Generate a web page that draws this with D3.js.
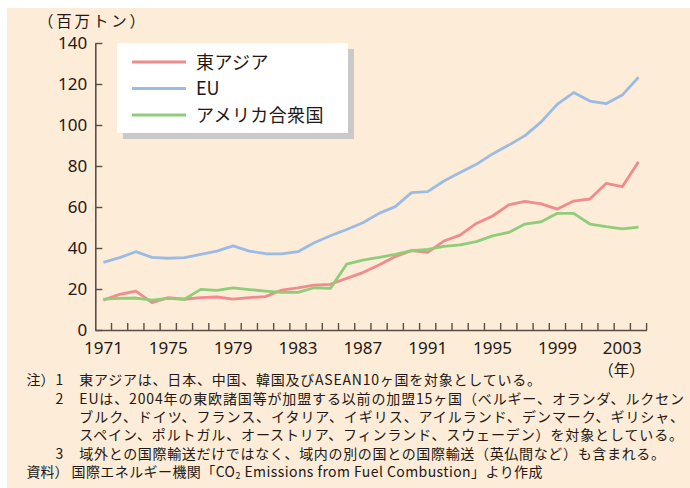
<!DOCTYPE html>
<html lang="ja">
<head>
<meta charset="utf-8">
<script src="https://cdn.jsdelivr.net/npm/d3@7"></script>
<style>
  html, body { margin: 0; padding: 0; background: #ffffff; }
  svg { display: block; }
  .tick-label { font-family: "Noto Sans", "Liberation Sans", sans-serif; font-size: 17px; fill: #231815; }
  .jp { font-family: "Noto Sans CJK JP", sans-serif; fill: #231815; }
</style>
</head>
<body>
<svg id="chart" width="690" height="488"></svg>
<script>
// 国際輸送（外航海運・航空）に伴うCO2排出量の推移（百万トン）
const years = d3.range(1971, 2005);
const labelYears = [1971, 1975, 1979, 1983, 1987, 1991, 1995, 1999, 2003];
const yTicks = [0, 20, 40, 60, 80, 100, 120, 140];

const seriesNames = ["東アジア", "EU", "アメリカ合衆国"];
const seriesColors = ["#f08c8c", "#9cbbe4", "#8fcd7a"];

const eastAsia = [14.6, 17.4, 19.0, 13.3, 15.8, 15.0, 15.8, 16.1, 15.1, 15.8,
                  16.3, 19.5, 20.6, 21.9, 22.3, 25.2, 28.0, 31.7, 35.8, 38.7,
                  37.9, 43.4, 46.3, 52.0, 55.6, 61.0, 62.8, 61.5, 59.0, 62.9,
                  63.9, 71.5, 69.9, 82.1];
const eu = [33.0, 35.3, 38.2, 35.4, 35.0, 35.3, 36.9, 38.5, 41.0, 38.5,
            37.2, 37.1, 38.2, 42.6, 46.0, 49.0, 52.3, 56.9, 60.2, 67.0,
            67.5, 72.7, 76.8, 80.8, 85.9, 90.2, 94.8, 101.5, 110.2, 115.8,
            111.7, 110.4, 114.6, 123.3];
const usa = [15.1, 15.4, 15.6, 14.6, 15.4, 15.0, 19.8, 19.3, 20.5, 19.7,
             19.0, 18.4, 18.4, 20.6, 20.3, 32.1, 34.1, 35.4, 36.9, 38.7,
             39.3, 40.8, 41.5, 43.1, 45.9, 47.6, 51.7, 52.8, 56.9, 56.9,
             51.7, 50.4, 49.3, 50.2];

const unitLabel = "（百万トン）";
const yearLabel = "（年）";
const noteLines = [
  { head: "注）", num: "1", text: "東アジアは、日本、中国、韓国及びASEAN10ヶ国を対象としている。", end: 541 },
  { head: "", num: "2", text: "EUは、2004年の東欧諸国等が加盟する以前の加盟15ヶ国（ベルギー、オランダ、ルクセン", end: 684 },
  { head: "", num: "", text: "ブルク、ドイツ、フランス、イタリア、イギリス、アイルランド、デンマーク、ギリシャ、", end: 684 },
  { head: "", num: "", text: "スペイン、ポルトガル、オーストリア、フィンランド、スウェーデン）を対象としている。", end: 683 },
  { head: "", num: "3", text: "域外との国際輸送だけではなく、域内の別の国との国際輸送（英仏間など）も含まれる。", end: 665 }
];
const sourceHead = "資料）";
const sourceParts = ["国際エネルギー機関「CO", "2", " Emissions from Fuel Combustion」より作成"];

const svg = d3.select("#chart");
const axisColor = "#5a4d44";

// paper background
svg.append("rect")
  .attr("x", 7).attr("y", 8)
  .attr("width", 683).attr("height", 480)
  .attr("fill", "#fdecd7");

// scales
const x = d3.scaleBand().domain(years).range([95.3, 646.6]).padding(0);
const cx = d => x(d) + x.bandwidth() / 2;
const y = d3.scaleLinear().domain([0, 140]).range([330, 43]);

// y axis: ticks point inward, labels outside
const yAxis = svg.append("g")
  .attr("transform", "translate(95.3,0)")
  .call(d3.axisLeft(y).tickValues(yTicks).tickSizeInner(-7).tickSizeOuter(0).tickPadding(8));
yAxis.select(".domain").attr("stroke", axisColor).attr("stroke-width", 1.6);
yAxis.selectAll(".tick line").attr("stroke", axisColor).attr("stroke-width", 1.4);
yAxis.selectAll(".tick text").attr("class", "tick-label").attr("font-size", null).attr("font-family", null);

// x axis: labels every four years, ticks at every year boundary
const xAxis = svg.append("g")
  .attr("transform", "translate(0,330)")
  .call(d3.axisBottom(x).tickValues(labelYears).tickSizeInner(0).tickSizeOuter(0).tickPadding(12));
xAxis.select(".domain").attr("stroke", axisColor).attr("stroke-width", 1.6);
xAxis.selectAll(".tick text").attr("class", "tick-label").attr("font-size", null).attr("font-family", null);

const boundaries = years.map(d => x(d) + x.bandwidth());
svg.append("g").selectAll("line")
  .data(boundaries)
  .join("line")
  .attr("x1", d => d).attr("x2", d => d)
  .attr("y1", y(0)).attr("y2", y(0) - 7)
  .attr("stroke", axisColor).attr("stroke-width", 1.4);

// unit labels
svg.append("text").attr("class", "jp")
  .attr("x", 38).attr("y", 21.5).attr("dy", "0.38em")
  .attr("font-size", 15.5)
  .attr("textLength", 107).attr("lengthAdjust", "spacing")
  .text(unitLabel);
svg.append("text").attr("class", "jp")
  .attr("x", 621.5).attr("y", 370).attr("dy", "0.38em")
  .attr("text-anchor", "middle")
  .attr("font-size", 15.5)
  .text(yearLabel);

// lines
const line = d3.line().x((d, i) => cx(years[i])).y(d => y(d));
const series = [eu, eastAsia, usa];
const order = [1, 0, 2];
series.forEach((vals, k) => {
  svg.append("path")
    .datum(vals)
    .attr("fill", "none")
    .attr("stroke", seriesColors[order[k]])
    .attr("stroke-width", 2.8)
    .attr("stroke-linejoin", "round")
    .attr("d", line);
});

// legend with drop shadow
const legend = svg.append("g");
legend.append("rect").attr("x", 123).attr("y", 49).attr("width", 231).attr("height", 90).attr("fill", "#c9c9c9");
legend.append("rect").attr("x", 117).attr("y", 43).attr("width", 231).attr("height", 90).attr("fill", "#ffffff");
const legendY = d3.scalePoint().domain(seriesNames).range([62, 115]);
seriesNames.forEach((name, i) => {
  legend.append("line")
    .attr("x1", 132).attr("x2", 186)
    .attr("y1", legendY(name)).attr("y2", legendY(name))
    .attr("stroke", seriesColors[i]).attr("stroke-width", 3);
  legend.append("text").attr("class", "jp")
    .attr("x", 196).attr("y", legendY(name)).attr("dy", "0.38em")
    .attr("font-size", 18)
    .attr("letter-spacing", name === "EU" ? 0 : 0.4)
    .text(name);
});

// notes
const noteY = d3.range(noteLines.length + 1).map(i => 380 + i * 18.3);
noteLines.forEach((n, i) => {
  if (n.head) {
    svg.append("text").attr("class", "jp").attr("font-size", 14)
      .attr("x", 26.5).attr("y", noteY[i]).attr("dy", "0.38em").text(n.head);
  }
  if (n.num) {
    svg.append("text").attr("class", "jp").attr("font-size", 14)
      .attr("x", 59.5).attr("y", noteY[i]).attr("dy", "0.38em")
      .attr("text-anchor", "middle").text(n.num);
  }
  svg.append("text").attr("class", "jp").attr("font-size", 14)
    .attr("x", 79.3).attr("y", noteY[i]).attr("dy", "0.38em")
    .attr("textLength", n.end - 79.3).attr("lengthAdjust", "spacing")
    .text(n.text);
});
const last = noteY[noteLines.length];
svg.append("text").attr("class", "jp").attr("font-size", 14)
  .attr("x", 26.5).attr("y", last).attr("dy", "0.38em").text(sourceHead);
const src = svg.append("text").attr("class", "jp").attr("font-size", 14)
  .attr("x", 71.5).attr("y", last + 0.38 * 14)
  .attr("textLength", 542.5 - 71.5).attr("lengthAdjust", "spacing");
src.append("tspan").text(sourceParts[0]);
src.append("tspan").attr("font-size", 9).attr("dy", 2).text(sourceParts[1]);
src.append("tspan").attr("dy", -2).text(sourceParts[2]);
</script>
</body>
</html>
